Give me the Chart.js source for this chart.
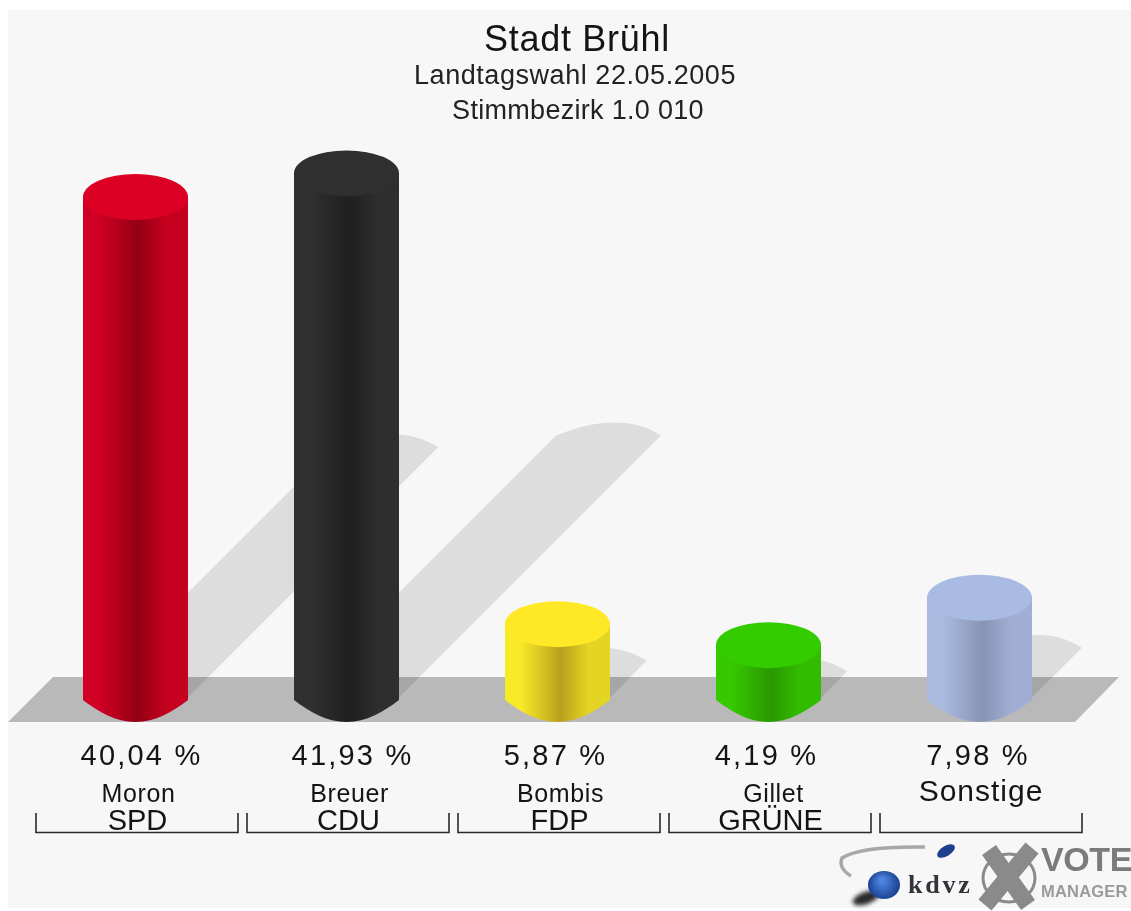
<!DOCTYPE html>
<html>
<head>
<meta charset="utf-8">
<title>Stadt Brühl</title>
<style>
html, body { margin: 0; padding: 0; background: #fff; }
canvas { display: block; filter: blur(0.6px); }
</style>
</head>
<body>
<canvas id="voteChart" width="1131" height="911"></canvas>
<script src="https://cdn.jsdelivr.net/npm/chart.js@4/dist/chart.umd.min.js"></script>
<script>
const parties = ['SPD', 'CDU', 'FDP', 'GRÜNE', ''];
const candidates = ['Moron', 'Breuer', 'Bombis', 'Gillet', 'Sonstige'];
const shares = [40.04, 41.93, 5.87, 4.19, 7.98];
const shareLabels = ['40,04 %', '41,93 %', '5,87 %', '4,19 %', '7,98 %'];
const titleLine = 'Stadt Brühl';
const subtitleLines = ['Landtagswahl 22.05.2005', 'Stimmbezirk 1.0 010'];

// colours of each cylinder: lid, left edge, darkest band, right edge
const lidColors = ['#dc0024', '#2f2f2f', '#ffe926', '#33cc00', '#aabbe3'];
const edgeColors = ['#d00024', '#303030', '#f8ea28', '#36c800', '#aabadf'];
const bandColors = ['#930014', '#1f1f1f', '#b8a11c', '#289800', '#8894b4'];
const rightColors = ['#c6001f', '#2e2e2e', '#e4d524', '#32bc00', '#a0aed3'];

const FONT = '"Liberation Sans", Arial, sans-serif';
const CAP_RY = 23;

function sideGradient(ctx, cx, halfWidth, i) {
    const g = ctx.createLinearGradient(cx - halfWidth, 0, cx + halfWidth, 0);
    g.addColorStop(0, edgeColors[i]);
    g.addColorStop(0.15, edgeColors[i]);
    g.addColorStop(0.53, bandColors[i]);
    g.addColorStop(0.8, rightColors[i]);
    g.addColorStop(1, rightColors[i]);
    return g;
}

function spacedText(ctx, text, x, y, font, spacing) {
    ctx.font = font;
    ctx.letterSpacing = spacing + 'px';
    ctx.fillText(text, x, y);
    ctx.letterSpacing = '0px';
}

// panel, floor and the cast shadows sit behind the bars
const scenePlugin = {
    id: 'scene',
    beforeDraw(chart) {
        const ctx = chart.ctx;
        ctx.save();
        ctx.fillStyle = '#f7f7f7';
        ctx.fillRect(8, 10, 1123, 898);
        ctx.fillStyle = '#b9b9b9';
        ctx.beginPath();
        ctx.moveTo(8, 722);
        ctx.lineTo(53, 677);
        ctx.lineTo(1119, 677);
        ctx.lineTo(1075, 722);
        ctx.closePath();
        ctx.fill();
        ctx.restore();
    },
    beforeDatasetsDraw(chart) {
        const ctx = chart.ctx;
        const base = chart.scales.y.getPixelForValue(0);
        ctx.save();
        ctx.fillStyle = 'rgba(0, 0, 0, 0.1)';
        chart.getDatasetMeta(0).data.forEach(function (bar) {
            const rx = bar.width / 2;
            const d = (base - bar.y) / 2;
            ctx.beginPath();
            ctx.moveTo(bar.x - rx, base);
            ctx.lineTo(bar.x - rx + d, base - d);
            ctx.quadraticCurveTo(bar.x + d + 12, base - d - 26, bar.x + rx + d, base - d);
            ctx.lineTo(bar.x + rx, base);
            ctx.closePath();
            ctx.fill();
        });
        ctx.restore();
    },
    afterDatasetsDraw(chart) {
        const ctx = chart.ctx;
        const base = chart.scales.y.getPixelForValue(0);
        ctx.save();
        chart.getDatasetMeta(0).data.forEach(function (bar, i) {
            const rx = bar.width / 2;
            const left = bar.x - rx;
            const right = bar.x + rx;
            const corner = base + 2.5;
            const tip = base + CAP_RY + 1.5;
            ctx.fillStyle = sideGradient(ctx, bar.x, rx, i);
            ctx.beginPath();
            ctx.moveTo(left, base - 1);
            ctx.lineTo(left, corner);
            ctx.bezierCurveTo(left + 16, corner + 12, bar.x - 20, tip, bar.x, tip);
            ctx.bezierCurveTo(bar.x + 20, tip, right - 16, corner + 12, right, corner);
            ctx.lineTo(right, base - 1);
            ctx.closePath();
            ctx.fill();
            ctx.fillStyle = lidColors[i];
            ctx.beginPath();
            ctx.ellipse(bar.x, bar.y, rx, CAP_RY, 0, 0, 2 * Math.PI);
            ctx.fill();
        });
        ctx.restore();
    }
};

const labelPlugin = {
    id: 'labels',
    afterDraw(chart) {
        const ctx = chart.ctx;
        const xScale = chart.scales.x;
        ctx.save();
        ctx.textAlign = 'center';
        ctx.textBaseline = 'middle';
        ctx.fillStyle = '#141414';
        spacedText(ctx, titleLine, 577, 41, '36px ' + FONT, 0.7);
        ctx.fillStyle = '#222222';
        spacedText(ctx, subtitleLines[0], 575, 77, '27px ' + FONT, 0.55);
        spacedText(ctx, subtitleLines[1], 578, 112, '27px ' + FONT, 0.3);
        ctx.fillStyle = '#141414';
        shares.forEach(function (v, i) {
            const cx = xScale.getPixelForValue(i);
            spacedText(ctx, shareLabels[i], cx + (i < 2 ? 6 : i === 4 ? -1.5 : -2), 757, '29px ' + FONT, 2.2);
            if (parties[i]) {
                spacedText(ctx, candidates[i], cx + (i === 3 ? 5 : 3), 795, '25px ' + FONT, 0.6);
            } else {
                spacedText(ctx, candidates[i], cx + 1.5, 793, '30px ' + FONT, 1);
            }
            // bracket under each column
            ctx.strokeStyle = '#2a2a2a';
            ctx.lineWidth = 1.6;
            ctx.beginPath();
            ctx.moveTo(cx - 99.5, 813);
            ctx.lineTo(cx - 99.5, 832.5);
            ctx.lineTo(cx + 102.5, 832.5);
            ctx.lineTo(cx + 102.5, 813);
            ctx.stroke();
        });
        drawLogos(ctx);
        ctx.restore();
    }
};

function drawLogos(ctx) {
    // kdvz swoosh and balls
    ctx.strokeStyle = '#a8a8a8';
    ctx.lineWidth = 3.5;
    ctx.beginPath();
    ctx.moveTo(925, 847);
    ctx.quadraticCurveTo(860, 846, 842, 858);
    ctx.quadraticCurveTo(838, 868, 851, 876);
    ctx.stroke();

    ctx.fillStyle = '#1d3f8f';
    ctx.beginPath();
    ctx.ellipse(946, 851, 10, 5, -0.55, 0, 2 * Math.PI);
    ctx.fill();

    ctx.save();
    ctx.filter = 'blur(2px)';
    ctx.fillStyle = '#2a2a2a';
    ctx.beginPath();
    ctx.ellipse(866, 898, 14, 6, -0.35, 0, 2 * Math.PI);
    ctx.fill();
    ctx.restore();
    const ball = ctx.createRadialGradient(882, 880, 2, 884, 885, 17);
    ball.addColorStop(0, '#4f86e0');
    ball.addColorStop(1, '#143a8c');
    ctx.fillStyle = ball;
    ctx.beginPath();
    ctx.ellipse(884, 885, 16, 14, 0, 0, 2 * Math.PI);
    ctx.fill();

    ctx.textAlign = 'left';
    ctx.fillStyle = '#33333a';
    spacedText(ctx, 'kdvz', 908, 886, 'bold 26px "Liberation Serif", serif', 2.8);

    // X mark
    ctx.strokeStyle = '#8a8a8a';
    ctx.lineWidth = 3;
    ctx.beginPath();
    ctx.ellipse(1009, 878, 26, 24, 0, 0, 2 * Math.PI);
    ctx.stroke();
    ctx.lineWidth = 17;
    ctx.beginPath();
    ctx.moveTo(989, 850);
    ctx.lineTo(1028, 905);
    ctx.moveTo(1032, 848);
    ctx.lineTo(985, 905);
    ctx.stroke();

    ctx.fillStyle = '#7b7b7b';
    spacedText(ctx, 'VOTE', 1041, 862, 'bold 34px ' + FONT, -0.4);
    ctx.fillStyle = '#9a9a9a';
    spacedText(ctx, 'MANAGER', 1041, 892, 'bold 16.5px ' + FONT, 0.2);
}

new Chart(document.getElementById('voteChart'), {
    type: 'bar',
    data: {
        labels: parties,
        datasets: [{
            data: shares,
            categoryPercentage: 1,
            barPercentage: 0.4976,
            borderWidth: 0,
            backgroundColor: function (c) {
                const x = c.chart.scales.x;
                const cx = x && c.dataIndex !== undefined ? x.getPixelForValue(c.dataIndex) : NaN;
                if (!Number.isFinite(cx)) return '#888888';
                return sideGradient(c.chart.ctx, cx, 52.5, c.dataIndex);
            }
        }]
    },
    plugins: [scenePlugin, labelPlugin],
    options: {
        responsive: false,
        animation: false,
        layout: { padding: { left: 30, right: 46, top: 0, bottom: 0 } },
        plugins: {
            legend: { display: false },
            tooltip: { enabled: false }
        },
        scales: {
            x: {
                grid: { display: false, drawTicks: false },
                border: { display: false },
                ticks: {
                    color: '#141414',
                    padding: 107,
                    labelOffset: 2,
                    maxRotation: 0,
                    autoSkip: false,
                    font: { family: FONT, size: 29 }
                },
                // the big tick padding would otherwise squeeze the categories
                afterFit: function (scale) {
                    scale.height = 213.5;
                    scale.paddingLeft = 0;
                    scale.paddingRight = 0;
                }
            },
            y: { display: false, min: 0, max: 55.8 }
        }
    }
});
</script>
</body>
</html>
